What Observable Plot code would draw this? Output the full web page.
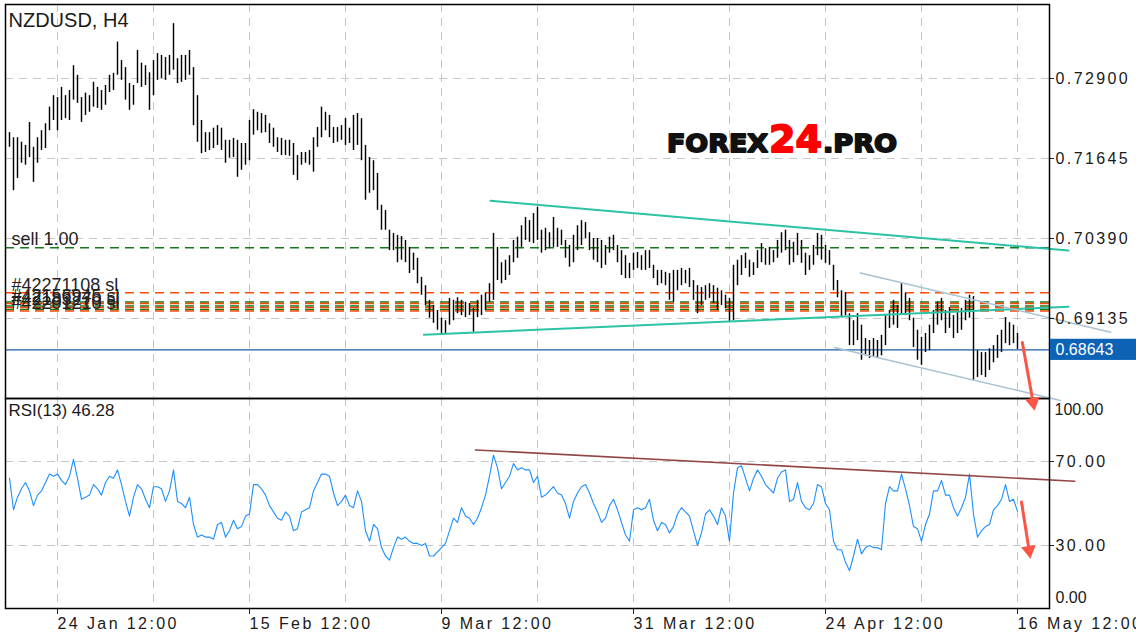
<!DOCTYPE html>
<html><head><meta charset="utf-8">
<script src="https://cdn.jsdelivr.net/npm/d3@7"></script>
<script src="https://cdn.jsdelivr.net/npm/@observablehq/plot@0.6"></script>
<style>
body{margin:0;background:#fff;}
#wrap{position:relative;width:1136px;height:640px;overflow:hidden;font-family:"Liberation Sans",Arial,sans-serif;}
#top,#bot{position:absolute;left:0;}
#top{top:0;z-index:2;}
#bot{top:398px;z-index:1;}
#logo{position:absolute;left:0;top:0;z-index:3;pointer-events:none;}
g[aria-label$="tick label"] text, g[aria-label="spaced"] text{letter-spacing:2.4px;}
g[aria-label="order-label"] text{letter-spacing:1.3px;}
g[aria-label="rsi-title"] text{letter-spacing:1.7px;}
</style></head>
<body><div id="wrap"><div id="top"></div><div id="bot"></div>
<svg id="logo" width="1136" height="640">
  <g font-family="DejaVu Sans, sans-serif" font-weight="bold" stroke-width="1.8" stroke-linejoin="round">
    <text x="667" y="151.5" font-size="25" textLength="101" lengthAdjust="spacingAndGlyphs" fill="#111" stroke="#111">FOREX</text>
    <text x="769" y="151.5" font-size="38" textLength="53" lengthAdjust="spacingAndGlyphs" fill="#f00" stroke="#f00">24</text>
    <text x="823" y="151.5" font-size="25" textLength="74" lengthAdjust="spacingAndGlyphs" fill="#111" stroke="#111">.PRO</text>
  </g>
</svg>
</div>
<script>
// ---- data (bar index = 8-hour step) ----
const symbolTitle = "NZDUSD, H4";
const highs = [
0.7205,0.7197,0.7197,0.7190,0.7185,0.7221,0.7182,0.7197,0.7208,0.7219,
0.7245,0.7263,0.7260,0.7276,0.7263,0.7271,0.7310,0.7295,0.7260,0.7267,
0.7263,0.7284,0.7276,0.7271,0.7279,0.7295,0.7298,0.7347,0.7318,0.7307,
0.7282,0.7279,0.7334,0.7314,0.7310,0.7299,0.7318,0.7329,0.7326,0.7323,
0.7326,0.7376,0.7321,0.7326,0.7326,0.7334,0.7307,0.7263,0.7224,0.7205,
0.7205,0.7212,0.7216,0.7212,0.7193,0.7193,0.7196,0.7193,0.7188,0.7188,
0.7224,0.7241,0.7237,0.7235,0.7232,0.7219,0.7212,0.7197,0.7196,0.7193,
0.7193,0.7188,0.7169,0.7174,0.7174,0.7177,0.7197,0.7213,0.7245,0.7237,
0.7232,0.7213,0.7213,0.7216,0.7227,0.7212,0.7232,0.7235,0.7227,0.7185,
0.7166,0.7161,0.7141,0.7091,0.7083,0.7052,0.7047,0.7044,0.7042,0.7036,
0.7025,0.7016,0.7008,0.6978,0.6965,0.6942,0.6934,0.6926,0.6914,0.6910,
0.6945,0.6942,0.6946,0.6942,0.6939,0.6937,0.6929,0.6942,0.6950,0.6953,
0.6968,0.7047,0.7025,0.7001,0.7005,0.7012,0.7036,0.7041,0.7059,0.7072,
0.7067,0.7078,0.7088,0.7052,0.7055,0.7048,0.7072,0.7055,0.7052,0.7036,
0.7028,0.7044,0.7059,0.7067,0.7064,0.7048,0.7039,0.7039,0.7036,0.7028,
0.7041,0.7044,0.7028,0.7020,0.7012,0.7000,0.7016,0.7017,0.7012,0.7020,
0.7020,0.6997,0.6989,0.6989,0.6986,0.6984,0.6989,0.6989,0.6992,0.6989,
0.6992,0.6973,0.6965,0.6962,0.6965,0.6968,0.6965,0.6961,0.6957,0.6950,
0.6945,0.6997,0.7005,0.7012,0.7016,0.7005,0.7001,0.7020,0.7031,0.7023,
0.7025,0.7020,0.7036,0.7048,0.7052,0.7036,0.7033,0.7047,0.7036,0.7016,
0.7012,0.7028,0.7047,0.7044,0.7028,0.7020,0.6997,0.6973,0.6957,0.6954,
0.6921,0.6910,0.6921,0.6903,0.6882,0.6879,0.6882,0.6879,0.6887,0.6918,
0.6926,0.6942,0.6934,0.6968,0.6953,0.6945,0.6914,0.6895,0.6884,0.6890,
0.6903,0.6926,0.6939,0.6945,0.6926,0.6931,0.6918,0.6923,0.6929,0.6942,
0.6950,0.6948,0.6863,0.6860,0.6860,0.6866,0.6871,0.6887,0.6895,0.6915,
0.6907,0.6903,0.6890];
const lows = [
0.7182,0.7114,0.7133,0.7157,0.7154,0.7166,0.7127,0.7157,0.7177,0.7180,
0.7208,0.7224,0.7208,0.7224,0.7227,0.7224,0.7256,0.7251,0.7221,0.7232,
0.7237,0.7245,0.7243,0.7240,0.7248,0.7268,0.7271,0.7295,0.7287,0.7256,
0.7240,0.7248,0.7282,0.7276,0.7279,0.7240,0.7263,0.7287,0.7290,0.7287,
0.7295,0.7303,0.7282,0.7284,0.7287,0.7295,0.7216,0.7190,0.7172,0.7174,
0.7177,0.7180,0.7185,0.7177,0.7157,0.7165,0.7166,0.7135,0.7146,0.7154,
0.7161,0.7201,0.7208,0.7204,0.7205,0.7188,0.7182,0.7174,0.7169,0.7169,
0.7168,0.7138,0.7130,0.7154,0.7157,0.7154,0.7143,0.7182,0.7197,0.7208,
0.7197,0.7188,0.7190,0.7193,0.7185,0.7188,0.7177,0.7185,0.7161,0.7099,
0.7110,0.7114,0.7083,0.7052,0.7052,0.7020,0.7020,0.7001,0.7005,0.7001,
0.6984,0.6989,0.6968,0.6950,0.6934,0.6914,0.6906,0.6895,0.6890,0.6890,
0.6903,0.6910,0.6921,0.6918,0.6915,0.6918,0.6892,0.6915,0.6918,0.6926,
0.6939,0.6942,0.6973,0.6968,0.6973,0.6981,0.7001,0.7008,0.7025,0.7036,
0.7033,0.7031,0.7036,0.7016,0.7020,0.7023,0.7025,0.7025,0.7028,0.7008,
0.6994,0.7001,0.7020,0.7028,0.7039,0.7020,0.7005,0.7001,0.6992,0.6997,
0.7016,0.7020,0.7001,0.6981,0.6976,0.6976,0.6989,0.6992,0.6989,0.6989,
0.6992,0.6976,0.6965,0.6968,0.6965,0.6942,0.6939,0.6957,0.6965,0.6968,
0.6962,0.6942,0.6921,0.6934,0.6942,0.6945,0.6937,0.6926,0.6934,0.6929,
0.6907,0.6910,0.6965,0.6981,0.6992,0.6978,0.6981,0.6992,0.7001,0.6997,
0.6997,0.7001,0.7008,0.7016,0.7020,0.6997,0.7001,0.7012,0.7000,0.6981,
0.6989,0.6997,0.7012,0.7005,0.7000,0.6997,0.6957,0.6946,0.6915,0.6918,
0.6871,0.6871,0.6879,0.6848,0.6855,0.6851,0.6854,0.6851,0.6855,0.6871,
0.6898,0.6903,0.6898,0.6918,0.6918,0.6910,0.6868,0.6848,0.6840,0.6860,
0.6863,0.6890,0.6903,0.6910,0.6890,0.6898,0.6882,0.6890,0.6895,0.6910,
0.6914,0.6816,0.6821,0.6824,0.6821,0.6832,0.6844,0.6851,0.6860,0.6874,
0.6871,0.6874,0.6865];
const rsi = [
62,47,53,57,60,56,49,54,56,60, 64,63,64,61,59,63,71,62,52,53,
54,59,57,54,60,63,62,66,59,51, 44,53,59,57,52,48,58,58,57,51,
56,66,51,50,48,53,40,34,35,34, 34,33,40,41,34,37,42,38,39,44,
45,59,59,57,54,49,46,43,42,46, 44,37,38,46,47,48,56,60,64,64,
63,55,49,51,54,49,48,56,51,37, 32,40,38,29,25,23,29,34,33,34,
32,31,31,30,31,25,25,27,29,31, 37,43,41,48,44,43,40,43,48,54,
63,73,67,57,60,63,69,66,67,66, 66,60,63,53,54,56,58,55,54,50,
43,51,55,58,59,55,50,46,41,43, 49,52,47,41,35,32,47,48,47,48,
52,42,37,41,40,36,39,45,48,46, 44,37,30,36,45,47,44,40,48,44,
32,55,67,68,62,56,62,66,63,59, 57,55,62,65,66,51,52,60,51,48,
47,50,59,58,50,47,32,28,28,22, 18,25,33,26,29,30,29,29,28,50,
58,56,56,64,57,49,39,38,32,40, 45,56,56,61,54,54,48,44,48,53,
64,45,34,37,39,40,47,49,52,59, 51,52,46.28];
const lastPrice = 0.68643;
const priceTicks = [0.72900, 0.71645, 0.70390, 0.69135];
const rsiTicks = [70, 30];
const rsiTop = [100];
const rsiBottom = [0];
const gridIdx = [12,36,60,84,108,132,156,180,204,228,252];
const xTickIdx = [12,60,108,156,204,252];
const xTickLabels = ["24 Jan 12:00","15 Feb 12:00","9 Mar 12:00","31 Mar 12:00","24 Apr 12:00","16 May 12:00"];
const sellLevel = [0.70244];
const sellLabel = ["sell 1.00"];
const entryLevels = [0.69394, 0.69331, 0.69276];
const slLevels = [0.69538, 0.69370, 0.69308, 0.69253];
const slLabels = ["#42271108 sl", "#42156945 sl", "#42183270 sl", "#42201210 sl"];
const channelUpper = [[120.25, 0.7098], [264.75, 0.7020]];
const channelLower = [[103.6, 0.6888], [264.75, 0.6932]];
const wedgeUpper = [[212.75, 0.6985], [275.25, 0.6892]];
const wedgeLower = [[206.25, 0.6868], [262.75, 0.6785]];
const rsiResistance = [[116.5, 75.5], [266.3, 60.6]];
const arrowPrice = [[253.2, 0.6876], [255.9, 0.6782]];
const arrowRsi = [[253.0, 50.7], [254.9, 27.7]];

// ---- build ----
const bars = highs.map((h, i) => ({i, high: h, low: lows[i]}));
const FONT = "'Liberation Sans', Arial, sans-serif";
const grid = {stroke: "#c6c6c6", strokeDasharray: "8,6", strokeWidth: 1};
const RED = "#fa5546";
const baseStyle = {fontFamily: FONT, fontSize: "16px", color: "#1a1a1a", background: "transparent", overflow: "visible"};

const topPlot = Plot.plot({
  width: 1136, height: 399,
  marginLeft: 5, marginRight: 87, marginTop: 4, marginBottom: 1,
  x: {domain: [-1, 260], axis: null, label: null},
  y: {domain: [0.6788, 0.7406], axis: null, label: null},
  style: baseStyle,
  marks: [
    Plot.ruleY(priceTicks, grid),
    Plot.ruleX(gridIdx, grid),
    Plot.ruleY(sellLevel, {stroke: "#17781a", strokeDasharray: "9,6", strokeWidth: 1.4}),
    Plot.ruleY(entryLevels, {stroke: "#17781a", strokeDasharray: "9,6", strokeWidth: 1.4}),
    Plot.ruleY(slLevels, {stroke: "#ff4a0a", strokeDasharray: "9,6", strokeWidth: 1.4}),
    Plot.text(sellLevel, {y: d => d, text: (d, i) => sellLabel[i], frameAnchor: "left", dx: 6, dy: -3, textAnchor: "start", lineAnchor: "bottom", fontSize: 18, fill: "#222", ariaLabel: "order-label"}),
    Plot.text(slLevels, {y: d => d, text: (d, i) => slLabels[i], frameAnchor: "left", dx: 6, dy: -2, textAnchor: "start", lineAnchor: "bottom", fontSize: 18, fill: "#222", ariaLabel: "order-label"}),
    Plot.ruleY([lastPrice], {stroke: "#1c5ea8", strokeWidth: 1.2}),
    Plot.ruleX(bars, {x: "i", y1: "low", y2: "high", stroke: "#000", strokeWidth: 1.45}),
    Plot.line(channelUpper, {x: d => d[0], y: d => d[1], stroke: "#2cc3a5", strokeWidth: 2}),
    Plot.line(channelLower, {x: d => d[0], y: d => d[1], stroke: "#2cc3a5", strokeWidth: 2}),
    Plot.line(wedgeUpper, {x: d => d[0], y: d => d[1], stroke: "#aac3d4", strokeWidth: 1.6}),
    Plot.line(wedgeLower, {x: d => d[0], y: d => d[1], stroke: "#aac3d4", strokeWidth: 1.6}),
    Plot.frame({stroke: "#000", strokeWidth: 1.5}),
    Plot.axisY(priceTicks, {anchor: "right", tickSize: 4, tickPadding: 2, tickFormat: d => d.toFixed(5), fontSize: 16, label: null}),
    Plot.rect([lastPrice], {x1: () => 260.25, x2: () => 282, y1: d => d - 0.00166, y2: d => d + 0.00166, fill: "#0c63b6"}),
    Plot.text([lastPrice], {x: () => 260.25, y: d => d, text: d => d.toFixed(5), dx: 5, textAnchor: "start", fill: "#fff", fontSize: 16, ariaLabel: "spaced"}),
    Plot.text([symbolTitle], {frameAnchor: "top-left", dx: 3, dy: 8, lineAnchor: "top", textAnchor: "start", fontSize: 20, fill: "#1a1a1a"}),
    Plot.line(arrowPrice, {x: d => d[0], y: d => d[1], stroke: RED, strokeWidth: 3}),
    Plot.dot([arrowPrice[1]], {x: d => d[0], y: d => d[1], symbol: "triangle", r: 5.5, fill: RED, stroke: "none", rotate: 170})
  ]
});
document.getElementById("top").appendChild(topPlot);

const botPlot = Plot.plot({
  width: 1136, height: 242,
  marginLeft: 5, marginRight: 87, marginTop: 0, marginBottom: 32,
  x: {domain: [-1, 260], axis: null, label: null},
  y: {domain: [0, 100], axis: null, label: null},
  style: baseStyle,
  marks: [
    Plot.ruleY(rsiTicks, grid),
    Plot.ruleX(gridIdx, grid),
    Plot.line(rsi, {x: (d, i) => i, y: d => d, stroke: "#1e8fff", strokeWidth: 1.1}),
    Plot.line(rsiResistance, {x: d => d[0], y: d => d[1], stroke: "#934646", strokeWidth: 1.6}),
    Plot.frame({stroke: "#000", strokeWidth: 1.5}),
    Plot.axisY(rsiTicks, {anchor: "right", tickSize: 4, tickPadding: 2, tickFormat: d => d.toFixed(2), fontSize: 16, label: null}),
    Plot.text(rsiTop, {y: d => d, text: d => d.toFixed(2), frameAnchor: "right", dx: 5, dy: 11, textAnchor: "start", fontSize: 16, fill: "#1a1a1a", ariaLabel: "spaced"}),
    Plot.text(rsiBottom, {y: d => d, text: d => d.toFixed(2), frameAnchor: "right", dx: 6, dy: -11, textAnchor: "start", fontSize: 16, fill: "#1a1a1a", ariaLabel: "spaced"}),
    Plot.axisX(xTickIdx, {anchor: "bottom", tickSize: 6, tickPadding: 3, textAnchor: "start", fontSize: 16, label: null, tickFormat: d => xTickLabels[xTickIdx.indexOf(d)]}),
    Plot.text([`RSI(13) ${rsi[rsi.length - 1].toFixed(2)}`], {frameAnchor: "top-left", dx: 3, dy: 5, lineAnchor: "top", textAnchor: "start", fontSize: 17, fill: "#1a1a1a", ariaLabel: "rsi-title"}),
    Plot.line(arrowRsi, {x: d => d[0], y: d => d[1], stroke: RED, strokeWidth: 3}),
    Plot.dot([arrowRsi[1]], {x: d => d[0], y: d => d[1], symbol: "triangle", r: 5.5, fill: RED, stroke: "none", rotate: 171})
  ]
});
document.getElementById("bot").appendChild(botPlot);
</script>
</body></html>
